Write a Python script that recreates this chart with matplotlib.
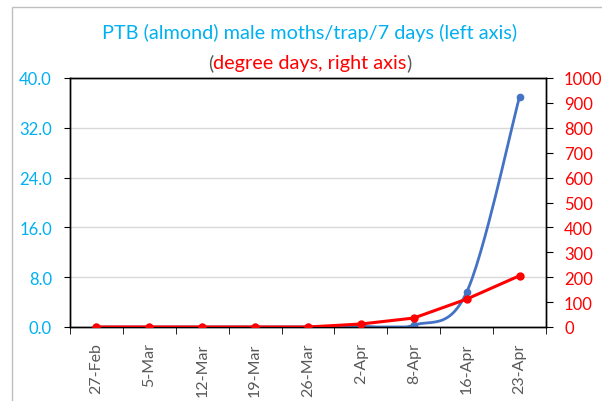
import numpy as np
import matplotlib.pyplot as plt
from matplotlib.patches import Rectangle

dates = ['27-Feb', '5-Mar', '12-Mar', '19-Mar', '26-Mar', '2-Apr', '8-Apr', '16-Apr', '23-Apr']
moths = [0, 0, 0, 0, 0, 0.1, 0.3, 5.6, 37.0]
degree_days = [0, 0, 0, 0, 0, 12, 36, 112, 206]

plt.rcParams['font.family'] = ['Lato', 'DejaVu Sans']

blue = '#4472C4'
red = '#FF0000'
cyan = '#00B0F0'
gray = '#595959'


def smooth(x, y, n=30):
    # excel-like smoothed line (catmull-rom bezier)
    x = np.asarray(x, float)
    y = np.asarray(y, float)
    px, py = [], []
    for i in range(len(x) - 1):
        x0, y0 = (x[i - 1], y[i - 1]) if i > 0 else (x[i], y[i])
        x3, y3 = (x[i + 2], y[i + 2]) if i + 2 < len(x) else (x[i + 1], y[i + 1])
        c1x = x[i] + (x[i + 1] - x0) / 6
        c1y = y[i] + (y[i + 1] - y0) / 6
        c2x = x[i + 1] - (x3 - x[i]) / 6
        c2y = y[i + 1] - (y3 - y[i]) / 6
        t = np.linspace(0, 1, n)
        px.extend((1 - t) ** 3 * x[i] + 3 * (1 - t) ** 2 * t * c1x + 3 * (1 - t) * t ** 2 * c2x + t ** 3 * x[i + 1])
        py.extend((1 - t) ** 3 * y[i] + 3 * (1 - t) ** 2 * t * c1y + 3 * (1 - t) * t ** 2 * c2y + t ** 3 * y[i + 1])
    return np.array(px), np.clip(py, 0, None)


fig = plt.figure(figsize=(6.02, 4.02), dpi=100)
fig.patches.append(Rectangle((12 / 602, -0.1), 1.2, 1.1 - 8 / 402, transform=fig.transFigure,
                             fill=False, edgecolor='#BFBFBF', lw=1))
ax = fig.add_axes([70 / 602, 74 / 402, 476 / 602, 249 / 402])
ax2 = ax.twinx()

x = np.arange(len(dates))
sx, sy = smooth(x, moths)
ax.plot(sx, sy, color=blue, lw=2, zorder=3)
ax.plot(x, moths, 'o', color=blue, ms=4.5, zorder=3)
ax2.plot(x, degree_days, '-o', color=red, lw=2.2, ms=5, zorder=4)

ax.set_xlim(-0.5, len(dates) - 0.5)
ax.set_ylim(0, 40)
ax.set_yticks(np.arange(0, 41, 8))
ax.set_yticklabels([f'{v:.1f}' for v in np.arange(0, 41, 8)])
ax.tick_params(axis='y', colors='black', labelcolor=cyan, labelsize=12, length=4,
               direction='out', pad=9)
ax.grid(axis='y', color='#D9D9D9', lw=1)
ax.set_axisbelow(True)

ax.set_xticks(x)
ax.set_xticklabels(dates, rotation=90, color=gray, fontsize=11.5)
ax.set_xticks(np.arange(-0.5, len(dates), 1), minor=True)
ax.tick_params(axis='x', which='major', length=0, pad=11)
ax.tick_params(axis='x', which='minor', length=5, direction='out')

ax2.set_ylim(0, 1000)
ax2.set_yticks(np.arange(0, 1001, 100))
ax2.tick_params(axis='y', colors='black', labelcolor=red, labelsize=12, length=5,
                direction='out', pad=8)

for a in (ax, ax2):
    for s in a.spines.values():
        s.set_color('black')
        s.set_linewidth(1)

fig.text(0.515, 0.918, 'PTB (almond) male moths/trap/7 days (left axis)', color=cyan,
         fontsize=14.3, ha='center', va='center')
mid = fig.text(0.515, 0.843, 'degree days, right axis', color=red, fontsize=14.3,
               ha='center', va='center')
ax.annotate('(', xy=(0, 0.5), xycoords=mid, color=gray, fontsize=14.3, ha='right', va='center')
ax.annotate(')', xy=(1, 0.5), xycoords=mid, color=gray, fontsize=14.3, ha='left', va='center')

fig.savefig('out.png', dpi=100)
